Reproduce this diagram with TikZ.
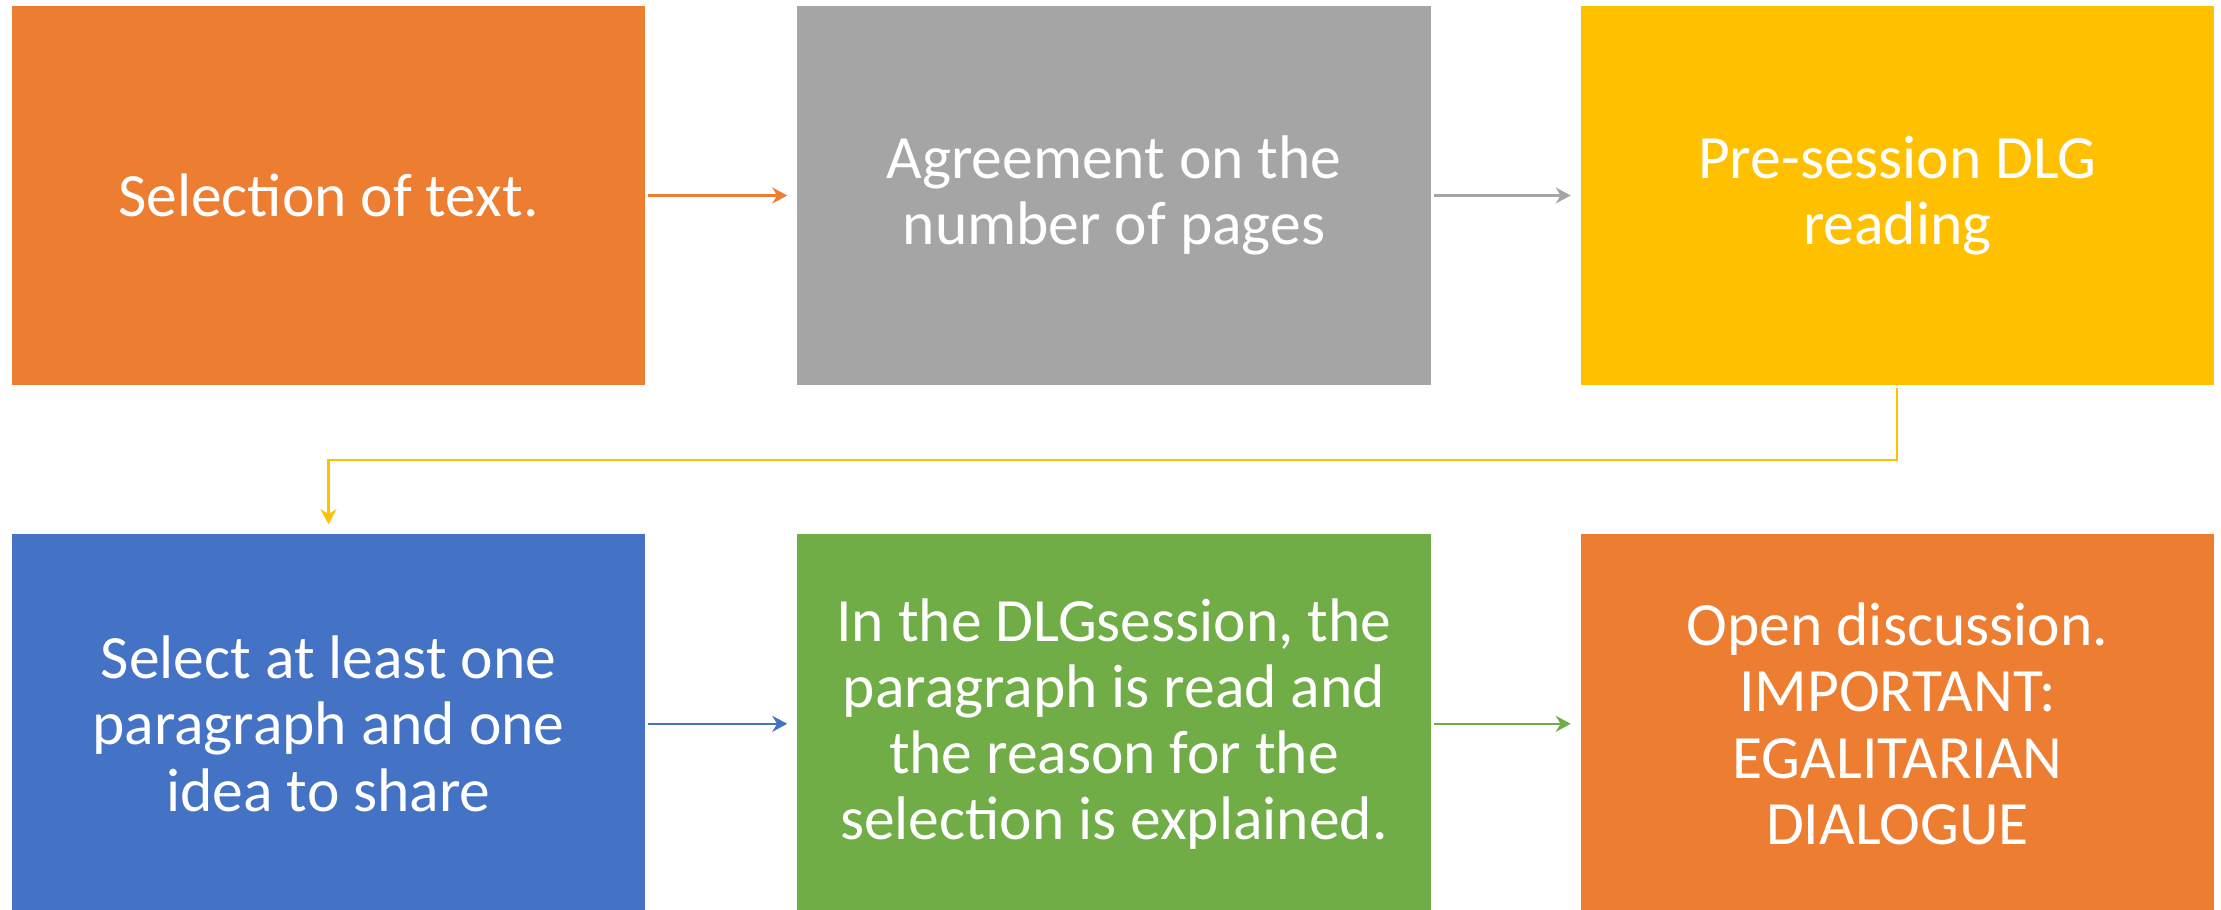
\documentclass[tikz,border=0pt]{standalone}
\usepackage{fontspec}
\setmainfont{Carlito}
\usepackage{tikz}
\usetikzlibrary{arrows.meta,positioning}
\definecolor{dlgorange}{HTML}{ED7D31}
\definecolor{dlggray}{HTML}{A5A5A5}
\definecolor{dlgyellow}{HTML}{FFC000}
\definecolor{dlgblue}{HTML}{4472C4}
\definecolor{dlggreen}{HTML}{70AD47}

\begin{document}
\begin{tikzpicture}[x=0.01cm,y=-0.01cm,
    stage/.style={rectangle,inner sep=0pt,outer sep=0pt,minimum width=6.33cm,minimum height=3.79cm,
      align=center,text=white,font=\fontsize{17.5}{18.8}\selectfont},
    flow/.style={line width=0.6pt,-{Stealth[length=0.15cm,width=0.16cm]},shorten <=0.03cm,shorten >=0.1cm}]
  \useasboundingbox (0,0) rectangle (2221,909);

  % Top row
  \node[stage,fill=dlgorange] (sel) at (328.5,195.5) {Selection of text.};
  \node[stage,fill=dlggray,right=1.52cm of sel] (agree) {Agreement on the\\number of pages};
  \node[stage,fill=dlgyellow,right=1.5cm of agree] (pre) {Pre-session DLG\hspace{0.12cm}\\reading};

  % Bottom row
  \node[stage,fill=dlgblue,below=1.49cm of sel] (para) {Select at least one\hspace{0.12cm}\\paragraph and one\\idea to share\hspace{0.12cm}};
  \node[stage,fill=dlggreen,right=1.52cm of para] (read) {In the DLGsession, the\\paragraph is read and\\the reason for the\\selection is explained.};
  \node[stage,fill=dlgorange,right=1.5cm of read] (open) {Open discussion.\\IMPORTANT:\\EGALITARIAN\\DIALOGUE};

  % Connectors
  \draw[flow,dlgorange] (sel) -- (agree);
  \draw[flow,dlggray] (agree) -- (pre);
  \draw[flow,dlgyellow] (pre.south) -- ++(0,75) -| (para.north);
  \draw[flow,dlgblue] (para) -- (read);
  \draw[flow,dlggreen] (read) -- (open);
\end{tikzpicture}
\end{document}
